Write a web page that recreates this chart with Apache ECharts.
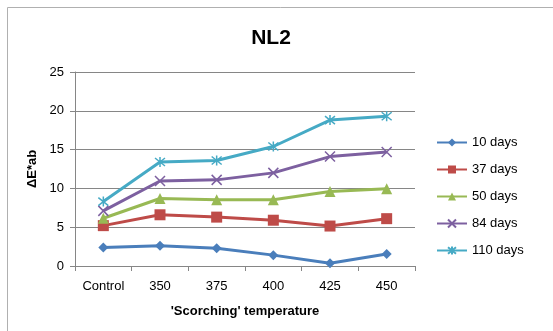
<!DOCTYPE html>
<html>
<head>
<meta charset="utf-8">
<script src="https://cdn.jsdelivr.net/npm/echarts@6/dist/echarts.min.js"></script>
<style>
  html, body { margin: 0; padding: 0; background: #fff; }
  #chart { width: 553px; height: 331px; }
</style>
</head>
<body>
<div id="chart"></div>
<script>
// data
const categories = ['Control', '350', '375', '400', '425', '450']
const seriesNames = ['10 days', '37 days', '50 days', '84 days', '110 days']
const days10 = [2.4, 2.6, 2.3, 1.4, 0.35, 1.55]
const days37 = [5.2, 6.6, 6.3, 5.9, 5.15, 6.1]
const days50 = [6.15, 8.7, 8.55, 8.55, 9.6, 9.95]
const days84 = [7.1, 10.95, 11.1, 12.0, 14.1, 14.7]
const days110 = [8.3, 13.4, 13.6, 15.4, 18.8, 19.3]
const yTicks = [0, 5, 10, 15, 20, 25]

const colors = ['#4A7EBB', '#BE4B48', '#98B954', '#7D60A0', '#46AAC5']
const font = 'Liberation Sans'

const symbols = [
  'diamond',
  'rect',
  'triangle',
  'path://M0 0L10 10M10 0L0 10',
  'path://M5 0L5 10M1 1L9 9M9 1L1 9'
]
const symbolSizes = [10, 11, 11, 10, 10]

const allData = [days10, days37, days50, days84, days110]

const series = allData.map((d, i) => {
  const isStroke = i >= 3
  return {
    name: seriesNames[i],
    type: 'line',
    data: d,
    symbol: symbols[i],
    symbolSize: symbolSizes[i],
    showAllSymbol: true,
    lineStyle: { width: 3, color: colors[i] },
    itemStyle: isStroke
      ? { color: colors[i], borderColor: colors[i], borderWidth: 1.5 }
      : { color: colors[i], borderWidth: 0 },
    emphasis: { disabled: true }
  }
})

var myChart = echarts.init(document.getElementById('chart'), null, { renderer: 'canvas' })

myChart.setOption({
  animation: false,
  color: colors,
  graphic: [{
    type: 'rect',
    shape: { x: 7.5, y: 7.5, width: 700, height: 500 },
    style: { fill: 'none', stroke: '#b0b0b0', lineWidth: 1 },
    z: 100
  }],
  title: {
    text: 'NL2',
    left: 266,
    textAlign: 'center',
    top: 23,
    textStyle: { fontFamily: font, fontSize: 21, fontWeight: 'bold', color: '#000' }
  },
  legend: {
    orient: 'vertical',
    left: 431,
    top: 131,
    itemWidth: 30,
    itemHeight: 10,
    itemGap: 14,
    data: seriesNames,
    textStyle: { fontFamily: font, fontSize: 13, color: '#000' }
  },
  grid: {
    left: 75,
    right: 138,
    top: 72,
    bottom: 65
  },
  xAxis: {
    type: 'category',
    data: categories,
    boundaryGap: true,
    name: "'Scorching' temperature",
    nameLocation: 'middle',
    nameGap: 39,
    nameTextStyle: { fontFamily: font, fontSize: 13, fontWeight: 'bold', color: '#000' },
    axisLine: { lineStyle: { color: '#868686', width: 1 } },
    axisTick: { show: true, length: 5, lineStyle: { color: '#868686' } },
    axisLabel: { fontFamily: font, fontSize: 13, color: '#000', margin: 14 }
  },
  yAxis: {
    type: 'value',
    min: yTicks[0],
    max: yTicks[yTicks.length - 1],
    interval: 5,
    name: 'ΔE*ab',
    nameLocation: 'middle',
    nameGap: 35,
    nameTextStyle: { fontFamily: font, fontSize: 13, fontWeight: 'bold', color: '#000' },
    axisLine: { show: true, lineStyle: { color: '#868686', width: 1 } },
    axisTick: { show: true, length: 5, lineStyle: { color: '#868686' } },
    axisLabel: { fontFamily: font, fontSize: 13, color: '#000', margin: 11 },
    splitLine: { lineStyle: { color: '#868686', width: 1 } }
  },
  series: series
})
</script>
</body>
</html>
